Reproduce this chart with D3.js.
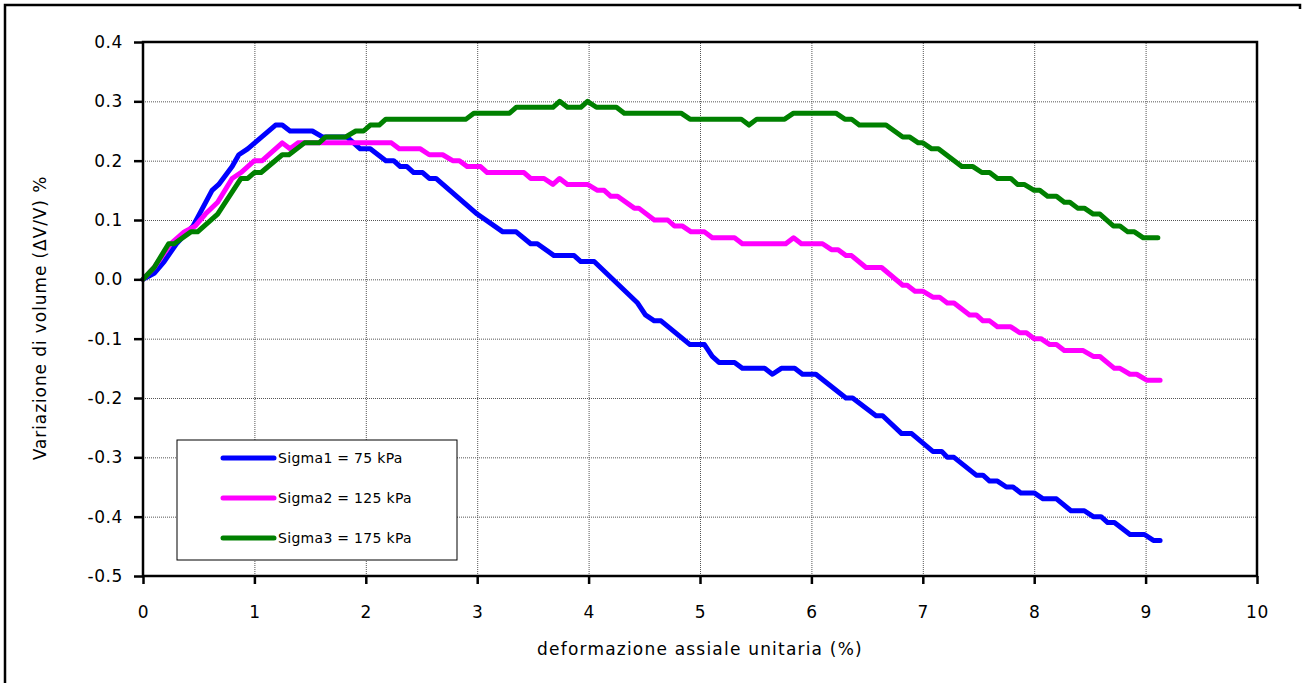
<!DOCTYPE html>
<html>
<head>
<meta charset="utf-8">
<script src="https://cdn.jsdelivr.net/npm/d3@7"></script>
<style>
  html, body { margin: 0; padding: 0; background: #fff; }
  #chart { width: 1303px; height: 683px; }
  text { font-family: "DejaVu Sans", sans-serif; fill: #000; }
  .grid line { stroke: #555; stroke-width: 1; stroke-dasharray: 1 1; }
  .series-line { fill: none; stroke-width: 5; stroke-linejoin: round; stroke-linecap: round; }
</style>
</head>
<body>
<div id="chart"></div>
<script>
'use strict';

const MARGIN = { top: 42, right: 46, bottom: 107, left: 143 };

const xTicks = [0, 1, 2, 3, 4, 5, 6, 7, 8, 9, 10];
const yTicks = [-0.5, -0.4, -0.3, -0.2, -0.1, 0.0, 0.1, 0.2, 0.3, 0.4];

const seriesNames = ['Sigma1 = 75 kPa', 'Sigma2 = 125 kPa', 'Sigma3 = 175 kPa'];
const seriesColors = ['#0000ff', '#ff00ff', '#008000'];

// [deformazione %, variazione volume %]
const sigma1 = [
  [0, 0], [0.1, 0.01], [0.19, 0.03], [0.3, 0.06], [0.4, 0.08], [0.45, 0.09], [0.62, 0.15],
  [0.68, 0.16], [0.76, 0.18], [0.8, 0.19], [0.86, 0.21], [0.94, 0.22], [1.19, 0.26], [1.25, 0.26],
  [1.32, 0.25], [1.52, 0.25], [1.61, 0.24], [1.83, 0.24], [1.95, 0.22], [2.04, 0.22], [2.18, 0.2],
  [2.25, 0.2], [2.31, 0.19], [2.37, 0.19], [2.43, 0.18], [2.51, 0.18], [2.57, 0.17], [2.63, 0.17],
  [3.0, 0.11], [3.23, 0.08], [3.35, 0.08], [3.48, 0.06], [3.54, 0.06], [3.69, 0.04], [3.87, 0.04],
  [3.93, 0.03], [4.05, 0.03], [4.44, -0.04], [4.51, -0.06], [4.59, -0.07], [4.65, -0.07],
  [4.91, -0.11], [5.04, -0.11], [5.11, -0.13], [5.17, -0.14], [5.31, -0.14], [5.38, -0.15],
  [5.58, -0.15], [5.65, -0.16], [5.73, -0.15], [5.85, -0.15], [5.92, -0.16], [6.04, -0.16],
  [6.31, -0.2], [6.37, -0.2], [6.58, -0.23], [6.64, -0.23], [6.81, -0.26], [6.9, -0.26],
  [7.09, -0.29], [7.17, -0.29], [7.22, -0.3], [7.28, -0.3], [7.48, -0.33], [7.54, -0.33],
  [7.6, -0.34], [7.67, -0.34], [7.75, -0.35], [7.81, -0.35], [7.88, -0.36], [8.0, -0.36],
  [8.08, -0.37], [8.2, -0.37], [8.33, -0.39], [8.45, -0.39], [8.53, -0.4], [8.6, -0.4],
  [8.66, -0.41], [8.72, -0.41], [8.86, -0.43], [8.99, -0.43], [9.07, -0.44], [9.13, -0.44],
];

const sigma2 = [
  [0, 0], [0.1, 0.02], [0.25, 0.06], [0.37, 0.08], [0.47, 0.09], [0.56, 0.11], [0.67, 0.13],
  [0.8, 0.17], [0.88, 0.18], [1.0, 0.2], [1.07, 0.2], [1.25, 0.23], [1.32, 0.22], [1.39, 0.23],
  [2.23, 0.23], [2.3, 0.22], [2.49, 0.22], [2.57, 0.21], [2.69, 0.21], [2.78, 0.2], [2.84, 0.2],
  [2.91, 0.19], [3.03, 0.19], [3.09, 0.18], [3.42, 0.18], [3.48, 0.17], [3.6, 0.17], [3.68, 0.16],
  [3.74, 0.17], [3.81, 0.16], [3.99, 0.16], [4.08, 0.15], [4.14, 0.15], [4.2, 0.14], [4.26, 0.14],
  [4.41, 0.12], [4.45, 0.12], [4.59, 0.1], [4.71, 0.1], [4.77, 0.09], [4.84, 0.09], [4.92, 0.08],
  [5.04, 0.08], [5.11, 0.07], [5.31, 0.07], [5.38, 0.06], [5.77, 0.06], [5.84, 0.07], [5.91, 0.06],
  [6.1, 0.06], [6.18, 0.05], [6.24, 0.05], [6.31, 0.04], [6.36, 0.04], [6.49, 0.02], [6.63, 0.02],
  [6.82, -0.01], [6.86, -0.01], [6.93, -0.02], [7.0, -0.02], [7.09, -0.03], [7.15, -0.03],
  [7.22, -0.04], [7.28, -0.04], [7.42, -0.06], [7.48, -0.06], [7.54, -0.07], [7.6, -0.07],
  [7.67, -0.08], [7.79, -0.08], [7.87, -0.09], [7.93, -0.09], [8.0, -0.1], [8.06, -0.1],
  [8.14, -0.11], [8.2, -0.11], [8.27, -0.12], [8.44, -0.12], [8.53, -0.13], [8.59, -0.13],
  [8.72, -0.15], [8.77, -0.15], [8.86, -0.16], [8.92, -0.16], [9.01, -0.17], [9.13, -0.17],
];

const sigma3 = [
  [0, 0], [0.1, 0.02], [0.23, 0.06], [0.28, 0.06], [0.43, 0.08], [0.49, 0.08], [0.67, 0.11],
  [0.88, 0.17], [0.94, 0.17], [1.0, 0.18], [1.06, 0.18], [1.25, 0.21], [1.31, 0.21], [1.45, 0.23],
  [1.58, 0.23], [1.64, 0.24], [1.82, 0.24], [1.91, 0.25], [1.98, 0.25], [2.04, 0.26], [2.12, 0.26],
  [2.18, 0.27], [2.9, 0.27], [2.97, 0.28], [3.29, 0.28], [3.35, 0.29], [3.68, 0.29], [3.74, 0.3],
  [3.81, 0.29], [3.93, 0.29], [3.99, 0.3], [4.07, 0.29], [4.25, 0.29], [4.32, 0.28], [4.83, 0.28],
  [4.91, 0.27], [5.37, 0.27], [5.44, 0.26], [5.51, 0.27], [5.76, 0.27], [5.84, 0.28], [6.22, 0.28],
  [6.3, 0.27], [6.36, 0.27], [6.43, 0.26], [6.67, 0.26], [6.82, 0.24], [6.88, 0.24], [6.96, 0.23],
  [7.0, 0.23], [7.08, 0.22], [7.14, 0.22], [7.35, 0.19], [7.45, 0.19], [7.53, 0.18], [7.6, 0.18],
  [7.67, 0.17], [7.79, 0.17], [7.85, 0.16], [7.91, 0.16], [8.0, 0.15], [8.05, 0.15], [8.12, 0.14],
  [8.2, 0.14], [8.27, 0.13], [8.32, 0.13], [8.39, 0.12], [8.45, 0.12], [8.53, 0.11], [8.59, 0.11],
  [8.71, 0.09], [8.77, 0.09], [8.84, 0.08], [8.9, 0.08], [8.98, 0.07], [9.11, 0.07],
];

const xTitle = 'deformazione assiale unitaria (%)';
const yTitle = 'Variazione di volume (\u0394V/V) %';

function drawChart() {
  const container = document.getElementById('chart');
  const W = 1303, H = 683;
  const w = W - MARGIN.left - MARGIN.right;
  const h = H - MARGIN.top - MARGIN.bottom;

  const series = [sigma1, sigma2, sigma3].map((values, i) => ({
    name: seriesNames[i], color: seriesColors[i], values,
  }));

  const x = d3.scaleLinear().domain([0, 10]).range([0, w]);
  const y = d3.scaleLinear().domain([-0.5, 0.4]).range([h, 0]);

  const svg = d3.select(container).append('svg')
    .attr('width', W).attr('height', H);

  // outer frame (top and left visible)
  svg.append('path')
    .attr('d', 'M1300,9 V5 H5 V690')
    .attr('fill', 'none').attr('stroke', '#000').attr('stroke-width', 2.5);

  const g = svg.append('g')
    .attr('transform', `translate(${MARGIN.left},${MARGIN.top})`);

  // Grid
  g.append('g')
    .attr('class', 'grid')
    .call(d3.axisLeft(y).tickValues(yTicks).tickSize(-w).tickFormat(''))
    .call(grp => grp.select('.domain').remove());
  g.append('g')
    .attr('class', 'grid')
    .attr('transform', `translate(0,${h})`)
    .call(d3.axisBottom(x).tickValues(xTicks).tickSize(-h).tickFormat(''))
    .call(grp => grp.select('.domain').remove());

  // Series
  const lineGen = d3.line().x(d => x(d[0])).y(d => y(d[1]));
  series.forEach(s => {
    g.append('path')
      .datum(s.values)
      .attr('class', 'series-line')
      .attr('stroke', s.color)
      .attr('d', lineGen);
  });

  // Plot frame
  g.append('rect')
    .attr('width', w).attr('height', h)
    .attr('fill', 'none').attr('stroke', '#000').attr('stroke-width', 2.5);

  // Axes
  const xAxis = g.append('g')
    .attr('transform', `translate(0,${h})`)
    .call(d3.axisBottom(x).tickValues(xTicks).tickSize(8).tickPadding(22).tickFormat(d3.format('d')));
  const yAxis = g.append('g')
    .call(d3.axisLeft(y).tickValues(yTicks).tickSize(9).tickPadding(11).tickFormat(d => d.toFixed(1)));

  [xAxis, yAxis].forEach(ax => {
    ax.select('.domain').remove();
    ax.selectAll('.tick line').attr('stroke', '#000').attr('stroke-width', 2.5);
    ax.selectAll('.tick text')
      .attr('font-family', '"DejaVu Sans", sans-serif')
      .attr('font-size', '17px')
      .attr('letter-spacing', '0.6px')
      .attr('fill', '#000');
  });

  // Axis titles
  g.append('text')
    .attr('x', w / 2).attr('y', h + 79)
    .attr('text-anchor', 'middle')
    .attr('font-size', '17px')
    .attr('letter-spacing', '1.2px')
    .text(xTitle);

  g.append('text')
    .attr('transform', 'rotate(-90)')
    .attr('x', -h / 2 - 9).attr('y', -97)
    .attr('text-anchor', 'middle')
    .attr('font-size', '17px')
    .attr('letter-spacing', '0.9px')
    .text(yTitle);

  // Legend
  const legend = g.append('g')
    .attr('transform', `translate(${177 - MARGIN.left},${440 - MARGIN.top})`);
  legend.append('rect')
    .attr('width', 280).attr('height', 120)
    .attr('fill', '#fff').attr('stroke', '#000').attr('stroke-width', 1);

  series.forEach((s, i) => {
    const row = legend.append('g').attr('transform', `translate(0,${18 + i * 40})`);
    row.append('line')
      .attr('x1', 46).attr('x2', 97)
      .attr('stroke', s.color).attr('stroke-width', 5)
      .attr('stroke-linecap', 'round');
    row.append('text')
      .attr('x', 101).attr('y', 5)
      .attr('font-size', '14px')
      .attr('letter-spacing', '0.3px')
      .text(s.name);
  });
}

drawChart();
</script>
</body>
</html>
